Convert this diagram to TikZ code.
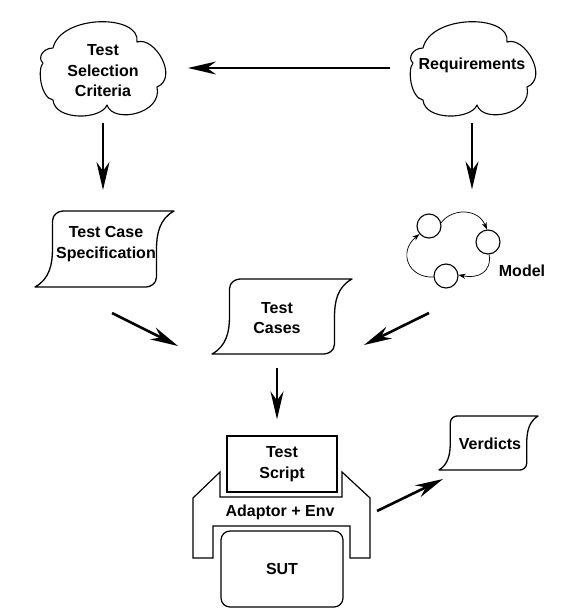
\documentclass[tikz,border=0pt]{standalone}
\usepackage{fontspec}
\setmainfont{Liberation Sans}
\usetikzlibrary{arrows.meta,fit}
\tikzset{
  lbl/.style={inner sep=0pt, align=center, font=\fontsize{16}{20.5}\selectfont\bfseries},
  shapebox/.style={inner sep=0pt, outer sep=0pt},
  cloudline/.style={line width=1.1pt, line join=round},
  docline/.style={line width=1.3pt, line join=round},
  arr/.style={line width=2.6pt, -{Stealth[length=28pt,width=13pt,inset=9pt]}},
  marr/.style={line width=0.7pt, -{Stealth[length=7pt,width=5pt,inset=2pt]}},
  circ/.style={circle, draw, line width=1.1pt, minimum size=24pt, inner sep=0pt},
  scriptbox/.style={draw, line width=1.3pt, minimum width=110pt, minimum height=56pt, inner sep=0pt, align=center, font=\fontsize{16}{20.5}\selectfont\bfseries},
  sutbox/.style={draw, line width=1.2pt, rounded corners=9pt, minimum width=122pt, minimum height=76pt, inner sep=0pt, font=\fontsize{16}{20.5}\selectfont\bfseries},
}
% cloud outline around a centre
\newcommand\cloudat[1]{%
  \draw[cloudline, shift={(#1)}]
    (-60,-5) .. controls (-66,-10) and (-60,-20) .. (-50,-20)
    .. controls (-42,-54) and (38,-54) .. (34,-26)
    .. controls (52,-32) and (76,10) .. (54,19)
    .. controls (60,46) and (10,56) .. (4,37)
    .. controls (-2,52) and (-48,53) .. (-50,32)
    .. controls (-62,30) and (-66,2) .. (-60,-5) -- cycle;}
% document (slanted sheet) outline: #1 centre, #2 half width, #3 half height, #4 slant
\newcommand\docat[4]{%
  \pgfmathsetmacro\dA{#2}\pgfmathsetmacro\dB{#3}\pgfmathsetmacro\dS{#4}%
  \pgfmathsetmacro\dV{\dA-0.625*\dS}%
  \pgfmathsetmacro\dC{\dA-0.52*\dS}%
  \pgfmathsetmacro\dK{\dA-0.86*\dS}%
  \pgfmathsetmacro\dE{\dA-\dS}%
  \draw[docline, shift={(#1)}]
    (-\dE,-\dB) -- (\dA,-\dB)
    .. controls (\dC,-0.79*\dB) and (\dV,-0.4*\dB) .. (\dV,0)
    -- (\dV,0.74*\dB)
    .. controls (\dV,0.92*\dB) and (\dK,\dB) .. (\dE,\dB)
    -- (-\dA,\dB)
    .. controls (-\dC,0.79*\dB) and (-\dV,0.4*\dB) .. (-\dV,0)
    -- (-\dV,-0.74*\dB)
    .. controls (-\dV,-0.92*\dB) and (-\dK,-\dB) .. (-\dE,-\dB) -- cycle;}
\begin{document}
\begin{tikzpicture}[x=1pt,y=-1pt]
\useasboundingbox (0,0) rectangle (578,613);

% shape frames (invisible)
\node[shapebox, minimum width=123pt, minimum height=93pt] (tscS) at (103,68) {};
\node[shapebox, minimum width=123pt, minimum height=93pt] (reqS) at (473,68) {};
\node[shapebox, minimum width=139pt, minimum height=76pt] (tcsS) at (104.5,249) {};
\node[shapebox, minimum width=140pt, minimum height=75pt] (tcS) at (282,316.5) {};
\node[shapebox, minimum width=99pt, minimum height=54pt] (verS) at (488.5,443) {};

% clouds
\cloudat{tscS.center}
\cloudat{reqS.center}
\node[lbl] (tsc) at (103,71) {Test\\Selection\\Criteria};
\node[lbl] (req) at (472,65) {Requirements};

% documents
\docat{tcsS.center}{69.5}{38}{28}
\docat{tcS.center}{70}{37.5}{28}
\docat{verS.center}{49.5}{27}{18}
\node[lbl] (tcs) at (106,244) {Test Case\\Specification};
\node[lbl] (tc) at (277,318) {Test\\Cases};
\node[lbl] (ver) at (490,444) {Verdicts};

% model
\node[circ] (c1) at (429,226) {};
\node[circ] (c2) at (488,242) {};
\node[circ] (c3) at (446,276) {};
\node[shapebox, fit=(c1)(c2)(c3)] (modelS) {};
\node[lbl] (model) at (522,271) {Model};
\draw[marr] (c1.15) .. controls (452,208) and (478,208) .. (c2.95);
\draw[marr] (c2.275) .. controls (492,272) and (478,279) .. (c3.5);
\draw[marr] (c3.185) .. controls (408,278) and (398,252) .. (c1.220);

% test script, adaptor, SUT
\node[scriptbox] (ts) at (282,464) {Test\\Script};
\draw[line width=1.2pt, line join=miter]
  (220,472) -- (220,497) -- (342,497) -- (342,472) -- (370,498) -- (370,558)
  -- (350,558) -- (350,526) -- (213,526) -- (213,558) -- (193,558) -- (193,498) -- cycle;
\node[shapebox, minimum width=177pt, minimum height=86pt] (adpS) at (281.5,515) {};
\node[lbl] (adp) at (280,512) {Adaptor + Env};
\node[sutbox] (sut) at (282,569) {SUT};

% free arrow ends
\coordinate (d1a) at (112,313);
\coordinate (d1b) at (178,346);
\coordinate (d2a) at (429,313);
\coordinate (d2b) at (364,345);
\coordinate (d3a) at (377,511);
\coordinate (d3b) at (443,479);

% main arrows
\draw[arr, shorten <=21.5pt, shorten >=23.5pt] (reqS.west) -- (tscS.east);
\draw[arr, shorten <=8.5pt, shorten >=21pt] (tscS.south) -- (tscS.south |- tcsS.north);
\draw[arr, shorten <=8.5pt, shorten >=24pt] ([xshift=-1pt]reqS.south) -- ([xshift=-1pt]reqS.south |- modelS.north);
\draw[arr] (d1a) -- (d1b);
\draw[arr] (d2a) -- (d2b);
\draw[arr, shorten <=14pt, shorten >=16pt] ([xshift=-5pt]tcS.south) -- ([xshift=-5pt]tcS.south |- ts.north);
\draw[arr] (d3a) -- (d3b);
\end{tikzpicture}
\end{document}
